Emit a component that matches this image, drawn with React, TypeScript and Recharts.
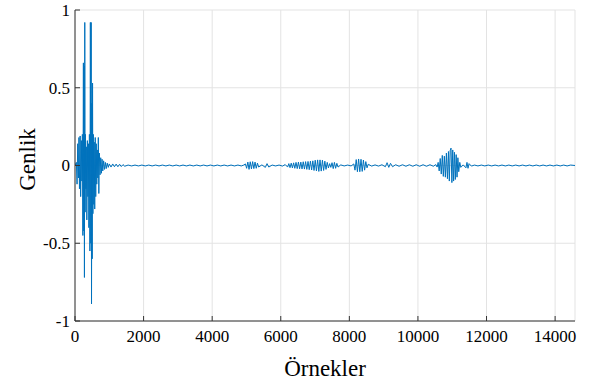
import { LineChart, Line, XAxis, YAxis, CartesianGrid } from "recharts";

// x: sample index, y: amplitude
const onset: [number, number][] = [
  [0, 0], [40, 0.02], [60, -0.12], [80, 0.14], [100, -0.08], [115, 0.18], [130, -0.15],
  [150, 0.19], [165, -0.2], [185, 0.16], [200, -0.1], [215, 0.2], [230, -0.45],
  [245, 0.66], [255, -0.42], [265, 0.64], [275, -0.72], [285, 0.92], [295, -0.3],
  [305, 0.2], [318, -0.15], [330, 0.12], [345, -0.35], [360, 0.16], [375, -0.2],
  [390, 0.14], [405, -0.4], [420, 0.2], [435, -0.55], [448, 0.92], [460, -0.5],
  [472, 0.92], [482, -0.89], [492, 0.4], [502, -0.6], [512, 0.53], [522, -0.31],
  [535, 0.2], [548, -0.25], [560, 0.15], [575, -0.28], [590, 0.18], [605, -0.2],
  [620, 0.14], [635, -0.12], [650, 0.1], [665, -0.08], [680, 0.18], [695, -0.18],
  [710, 0.08], [730, -0.06], [750, 0.05], [770, -0.05], [790, 0.04], [810, -0.035],
  [835, 0.03], [860, -0.025], [885, 0.02], [910, -0.02], [940, 0.015], [970, -0.012],
  [1000, 0.01],
];

const quietA: [number, number][] = [
  [1050, -0.01], [1100, 0.01], [1150, -0.008], [1200, 0.009], [1250, -0.008], [1300, 0.008],
  [1350, -0.007], [1400, 0.006], [1450, -0.005], [1550, 0.003], [1650, -0.003], [1750, 0.003],
  [1850, -0.003], [1950, 0.003], [2050, -0.003], [2150, 0.003], [2250, -0.003], [2350, 0.003],
  [2450, -0.003], [2550, 0.003], [2650, -0.003], [2750, 0.003], [2850, -0.003], [2950, 0.003],
  [3050, -0.003], [3150, 0.003], [3250, -0.003], [3350, 0.003], [3450, -0.003], [3550, 0.003],
  [3650, -0.003], [3750, 0.003], [3850, -0.003], [3950, 0.003], [4050, -0.003], [4150, 0.003],
  [4250, -0.003], [4350, 0.003], [4450, -0.003], [4550, 0.003], [4650, -0.003], [4750, 0.003],
  [4850, -0.003], [4920, 0.003],
];

const burst5k: [number, number][] = [
  [4970, 0.01], [5005, -0.018], [5040, 0.022], [5075, -0.025], [5110, 0.024], [5145, -0.022],
  [5180, 0.025], [5215, -0.02], [5250, 0.022], [5285, -0.018], [5320, 0.015], [5355, -0.01],
  [5450, 0.004], [5550, -0.012], [5600, 0.012], [5650, -0.01], [5750, 0.003], [5850, -0.003],
  [5950, 0.003], [6050, -0.004], [6130, 0.006],
];

const burst7k: [number, number][] = [
  [6200, -0.01], [6235, 0.012], [6270, -0.014], [6305, 0.015], [6340, -0.016], [6375, 0.017],
  [6410, -0.018], [6445, 0.02], [6480, -0.02], [6515, 0.022], [6550, -0.021], [6585, 0.022],
  [6620, -0.022], [6655, 0.024], [6690, -0.023], [6725, 0.025], [6760, -0.025], [6795, 0.026],
  [6830, -0.027], [6865, 0.028], [6900, -0.029], [6935, 0.03], [6970, -0.032], [7005, 0.034],
  [7040, -0.035], [7075, 0.036], [7110, -0.038], [7145, 0.036], [7180, -0.036], [7215, 0.034],
  [7250, -0.032], [7285, 0.028], [7320, -0.025], [7355, 0.02], [7390, -0.016], [7425, 0.012],
  [7460, -0.012], [7495, 0.018], [7530, -0.02], [7565, 0.02], [7600, -0.018], [7635, 0.014],
  [7670, -0.01], [7750, 0.004], [7850, -0.003], [7950, 0.003], [8050, -0.003],
];

const burst8k: [number, number][] = [
  [8130, 0.01], [8165, -0.03], [8200, 0.038], [8235, -0.04], [8270, 0.042], [8305, -0.04],
  [8340, 0.04], [8375, -0.038], [8410, 0.035], [8445, -0.03], [8480, 0.025], [8515, -0.015],
  [8550, 0.008], [8650, -0.004], [8750, 0.004], [8850, -0.004], [8950, 0.005], [9050, -0.008],
  [9100, 0.018], [9150, -0.012], [9200, 0.014], [9260, -0.008], [9350, 0.005], [9450, -0.005],
  [9550, 0.005], [9650, -0.005], [9750, 0.005], [9850, -0.005], [9950, 0.005], [10050, -0.005],
  [10150, 0.005], [10250, -0.005], [10350, 0.005], [10450, -0.005], [10520, 0.006],
];

const burst11k: [number, number][] = [
  [10560, -0.01], [10590, 0.02], [10620, -0.035], [10650, 0.045], [10680, -0.055], [10710, 0.065],
  [10740, -0.07], [10770, 0.06], [10800, -0.075], [10830, 0.08], [10860, -0.085], [10890, 0.09],
  [10915, -0.1], [10940, 0.095], [10965, 0.112], [10990, -0.11], [11015, 0.1], [11040, -0.1],
  [11065, 0.085], [11090, -0.09], [11115, 0.07], [11140, -0.075], [11165, 0.05], [11190, -0.04],
  [11220, 0.02], [11250, -0.012], [11320, 0.004], [11400, -0.015], [11430, 0.02], [11460, -0.018],
  [11490, 0.012], [11560, -0.004],
];

const quietB: [number, number][] = [
  [11650, 0.003], [11750, -0.003], [11850, 0.003], [11950, -0.003], [12050, 0.003], [12150, -0.003],
  [12250, 0.003], [12350, -0.003], [12450, 0.003], [12550, -0.003], [12650, 0.003], [12750, -0.003],
  [12850, 0.003], [12950, -0.003], [13050, 0.003], [13150, -0.003], [13250, 0.003], [13350, -0.003],
  [13450, 0.003], [13550, -0.003], [13650, 0.003], [13750, -0.003], [13850, 0.003], [13950, -0.003],
  [14050, 0.003], [14150, -0.003], [14250, 0.003], [14350, -0.003], [14450, 0.003], [14580, 0],
];

const xTicks = [0, 2000, 4000, 6000, 8000, 10000, 12000, 14000];
const yTicks = [-1, -0.5, 0, 0.5, 1];

const signal = [...onset, ...quietA, ...burst5k, ...burst7k, ...burst8k, ...burst11k, ...quietB].map(
  ([x, y]) => ({ x, y })
);

const FONT = '"Liberation Serif", "Times New Roman", serif';
const AXIS = "#333333";

const GenlikLabel = (props: any) => {
  const vb = props.viewBox || {};
  const cx = 27;
  const cy = (vb.y ?? 10) + (vb.height ?? 311) / 2 - 6;
  return (
    <text
      x={cx}
      y={cy}
      transform={`rotate(-90 ${cx} ${cy})`}
      textAnchor="middle"
      dominantBaseline="central"
      fontFamily={FONT}
      fontSize={23}
      fill="#000"
    >
      Genlik
    </text>
  );
};

const XTick = (p: any) => (
  <text x={p.x} y={p.y} dy="0.72em" textAnchor="middle" fontFamily={FONT} fontSize={17} fill="#000">
    {p.payload.value}
  </text>
);

const YTick = (p: any) => (
  <text x={p.x} y={p.y} dy="0.35em" textAnchor="end" fontFamily={FONT} fontSize={17} fill="#000">
    {p.payload.value}
  </text>
);

export default function App() {
  return (
    <div style={{ position: "absolute", left: 0, top: 0, background: "#fff" }}>
      <LineChart width={591} height={385} data={signal} margin={{ top: 10, right: 16, left: 0, bottom: 0 }}>
        <CartesianGrid stroke="#e3e3e3" strokeWidth={1} />
        <XAxis
          dataKey="x"
          type="number"
          domain={[0, 14580]}
          ticks={xTicks}
          allowDataOverflow
          height={64}
          interval={0}
          stroke={AXIS}
          tickSize={-5}
          tickMargin={14}
          tick={XTick}
          label={{ value: "Örnekler", position: "insideBottom", offset: 9, fill: "#000", fontFamily: FONT, fontSize: 23 }}
        />
        <XAxis
          xAxisId="top"
          orientation="top"
          type="number"
          domain={[0, 14580]}
          ticks={xTicks}
          allowDataOverflow
          height={0}
          stroke={AXIS}
          tickSize={-5}
          tick={() => <g />}
        />
        <YAxis
          type="number"
          domain={[-1, 1]}
          ticks={yTicks}
          width={75}
          interval={0}
          stroke={AXIS}
          tickSize={-5}
          tickMargin={10}
          tick={YTick}
          label={<GenlikLabel />}
        />
        <YAxis
          yAxisId="right"
          orientation="right"
          type="number"
          domain={[-1, 1]}
          ticks={yTicks}
          width={0}
          stroke={AXIS}
          tickSize={-5}
          tick={() => <g />}
        />
        <Line
          type="linear"
          dataKey="y"
          stroke="#0072BD"
          strokeWidth={1}
          dot={false}
          isAnimationActive={false}
        />
      </LineChart>
    </div>
  );
}
